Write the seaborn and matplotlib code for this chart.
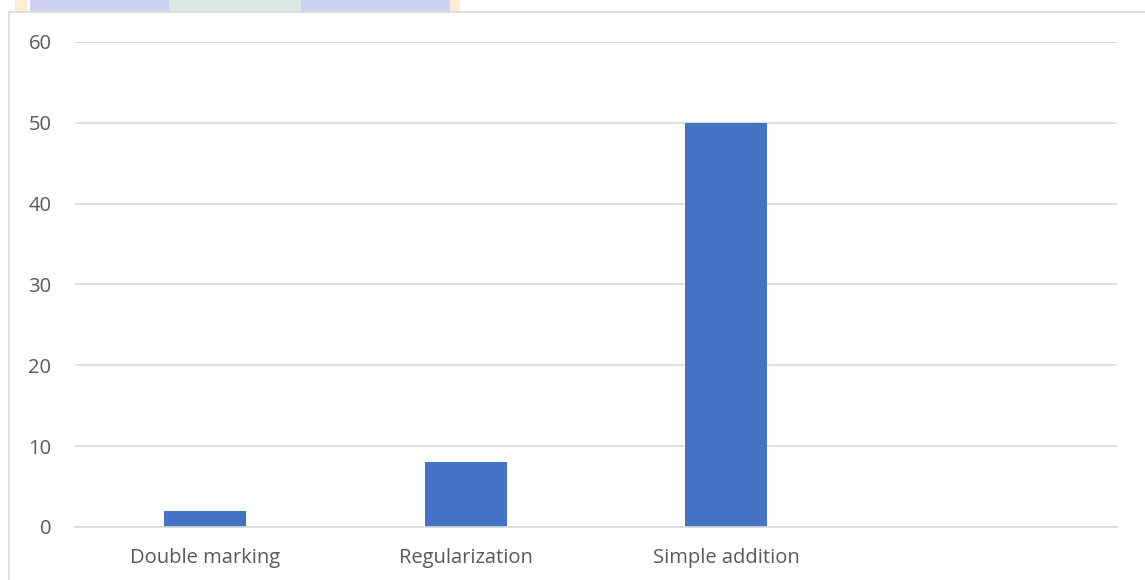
import pandas as pd
import matplotlib.pyplot as plt
import matplotlib.patches as mpatches
import seaborn as sns

# Data
categories = ['Double marking', 'Regularization', 'Simple addition', ' ']
counts = [2, 8, 50, 0]

df = pd.DataFrame({'method': categories, 'count': counts})

sns.set_style('white')
plt.rcParams['font.family'] = ['Open Sans', 'DejaVu Sans']

fig = plt.figure(figsize=(11.45, 5.8), dpi=100)

# watermark strip above the chart frame
fig.patches.append(mpatches.Rectangle((0.026, 0.979), 0.37, 0.021, transform=fig.transFigure,
                                      facecolor='#CFD1F0', edgecolor='none', zorder=0))
fig.patches.append(mpatches.Rectangle((0.148, 0.979), 0.115, 0.021, transform=fig.transFigure,
                                      facecolor='#DCE8E6', edgecolor='none', zorder=0))
fig.patches.append(mpatches.Rectangle((0.013, 0.979), 0.011, 0.021, transform=fig.transFigure,
                                      facecolor='#FBEFD2', edgecolor='none', zorder=0))
fig.patches.append(mpatches.Rectangle((0.393, 0.979), 0.009, 0.021, transform=fig.transFigure,
                                      facecolor='#FBEFD2', edgecolor='none', zorder=0))
# chart frame (left and top edges visible)
fig.add_artist(plt.Line2D([0.008, 0.008], [0.0, 0.979], transform=fig.transFigure,
                          color='#D9D9D9', lw=1.2))
fig.add_artist(plt.Line2D([0.008, 1.0], [0.979, 0.979], transform=fig.transFigure,
                          color='#D9D9D9', lw=1.2))

ax = fig.add_axes([0.0655, 0.0914, 0.91, 0.8362])
sns.barplot(data=df, x='method', y='count', color='#4472C4', width=0.315,
            linewidth=0, saturation=1, ax=ax)

ax.set_ylim(0, 60)
ax.set_yticks(range(0, 61, 10))
ax.yaxis.grid(True, color='#D9D9D9', lw=1.2)
ax.set_axisbelow(True)
for s in ['top', 'right', 'left']:
    ax.spines[s].set_visible(False)
ax.spines['bottom'].set_color('#D9D9D9')
ax.spines['bottom'].set_linewidth(1.2)
ax.set_xlabel('')
ax.set_ylabel('')
ax.tick_params(axis='both', length=0, labelsize=14.5, colors='#595959')
ax.tick_params(axis='y', pad=17)
ax.tick_params(axis='x', pad=15)

plt.savefig('out.png', dpi=100)
